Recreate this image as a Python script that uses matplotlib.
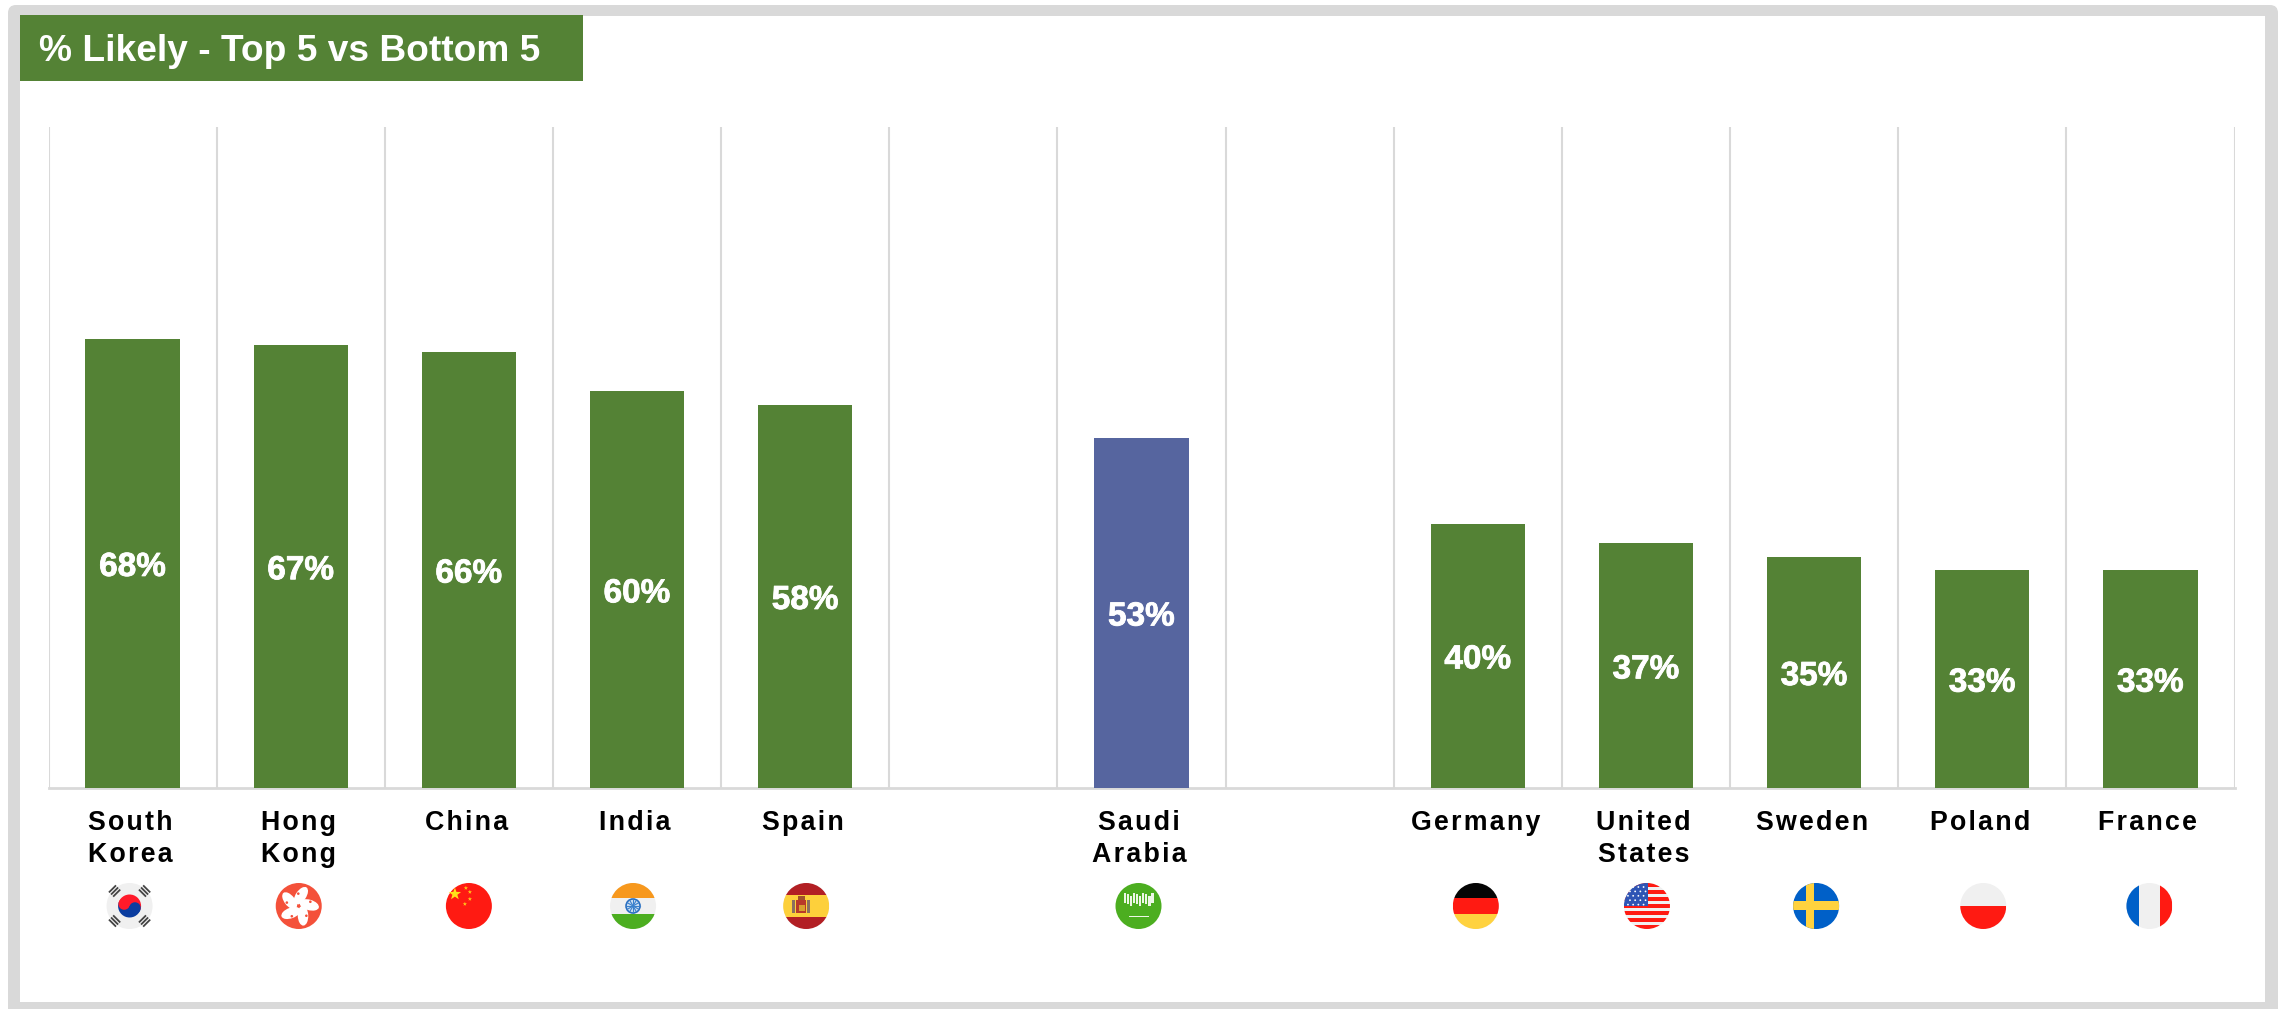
import numpy as np
import matplotlib
matplotlib.use("Agg")
import matplotlib.pyplot as plt
from matplotlib.patches import Circle, Rectangle, FancyBboxPatch, Polygon, Wedge, Ellipse
from matplotlib.transforms import Affine2D, ScaledTranslation
import matplotlib.patheffects as pe

W, H = 2285, 1009

countries = ["South\nKorea", "Hong\nKong", "China", "India", "Spain", "",
             "Saudi\nArabia", "", "Germany", "United\nStates", "Sweden", "Poland", "France"]
likely = [68, 67, 66, 60, 58, None, 53, None, 40, 37, 35, 33, 33]
flag_codes = ["kr", "hk", "cn", "in", "es", None, "sa", None, "de", "us", "se", "pl", "fr"]
flag_nudge = [-3, -2, 0, -4, 1, 0, -3, 0, -2, 1, 2, 1, -1]
title_text = "% Likely - Top 5 vs Bottom 5"

GREEN = "#548235"
BLUE = "#56659F"
GRID = "#D9D9D9"
FRAME = "#D9D9D9"
HAIR = "\u200a"

plt.rcParams["font.family"] = ["Liberation Sans", "DejaVu Sans"]

fig = plt.figure(figsize=(W / 100, H / 100), dpi=100, facecolor="white")


def pixel_axes(zorder):
    a = fig.add_axes([0, 0, 1, 1], zorder=zorder)
    a.set_xlim(0, W)
    a.set_ylim(H, 0)
    a.axis("off")
    a.patch.set_alpha(0)
    return a


# Frame and title band sit behind the chart
back = pixel_axes(0)
back.add_patch(FancyBboxPatch((8, 5), 2270, 1020, boxstyle="round,pad=0,rounding_size=8",
                              fc=FRAME, ec="none"))
back.add_patch(Rectangle((20, 16), 2245, 986, fc="white", ec="none"))
back.add_patch(Rectangle((20, 15), 563, 66, fc=GREEN, ec="none"))
back.text(39, 51.5, title_text, color="white", fontsize=26.7, fontweight="bold",
          va="center", ha="left")

# Main chart
ax = fig.add_axes([48.5 / W, 1 - 788 / H, (2234.5 - 48.5) / W, (788 - 127) / H], zorder=1)
ax.patch.set_alpha(0)
x = np.arange(len(countries))
for xi, v in zip(x, likely):
    if v is None:
        continue
    color = BLUE if "Saudi" in countries[xi] else GREEN
    ax.bar(xi, v, width=0.56, color=color, zorder=3)
    ax.annotate(f"{v}%", (xi, v / 2), xytext=(0, -3), textcoords="offset points",
                color="white", fontsize=24, fontweight="bold",
                ha="center", va="center", zorder=4,
                path_effects=[pe.withStroke(linewidth=0.6, foreground="white")])

ax.set_xlim(-0.5, len(countries) - 0.5)
ax.set_ylim(0, 100)
ax.set_yticks([])
ax.set_xticks(x)
spaced = ["\n".join(HAIR.join(line) for line in c.split("\n")) for c in countries]
ax.set_xticklabels(spaced, fontsize=19.3, fontweight="bold", color="black", linespacing=1.32)
ax.tick_params(axis="x", length=0, pad=15.5)
shift_left = ScaledTranslation(-2.5 / 100, 0, fig.dpi_scale_trans)
for lab in ax.get_xticklabels():
    lab.set_transform(lab.get_transform() + shift_left)
ax.set_xticks(np.arange(-0.5, len(countries)), minor=True)
ax.tick_params(axis="x", which="minor", length=0)
ax.grid(True, axis="x", which="minor", color=GRID, linewidth=1.5, zorder=1)
ax.grid(False, axis="x", which="major")
for name in ["top", "left", "right"]:
    ax.spines[name].set_visible(False)
ax.spines["bottom"].set_color(GRID)
ax.spines["bottom"].set_linewidth(2)

# Round flags under the category labels
flags = pixel_axes(2)
FR = 23
FY = 906
RED = "#FF1A12"
PALE = "#F0F0F0"
YEL = "#FFD23F"
FGREEN = "#4CAE20"
FBLUE = "#0060C8"


def bands(a, cx, clip, rows):
    top = FY - FR
    for y0, y1, c in rows:
        r = Rectangle((cx - FR, top + y0 * 2 * FR), 2 * FR, (y1 - y0) * 2 * FR, fc=c, ec="none")
        a.add_patch(r)
        r.set_clip_path(clip)


def columns(a, cx, clip, cols):
    for x0, x1, c in cols:
        r = Rectangle((cx - FR + x0 * 2 * FR, FY - FR), (x1 - x0) * 2 * FR, 2 * FR, fc=c, ec="none")
        a.add_patch(r)
        r.set_clip_path(clip)


def star(cx, cy, r, rot=0):
    ang = np.deg2rad(np.arange(10) * 36 - 90 + rot)
    rad = np.where(np.arange(10) % 2 == 0, r, r * 0.4)
    return np.c_[cx + rad * np.cos(ang), cy + rad * np.sin(ang)]


def draw_flag(a, code, cx):
    disc = Circle((cx, FY), FR, fc=PALE, ec="none")
    a.add_patch(disc)
    clip = disc
    if code == "kr":
        a.add_patch(Wedge((cx, FY), 11.5, 200, 20, fc="#FF1A2A", ec="none"))
        a.add_patch(Wedge((cx, FY), 11.5, 20, 200, fc="#0A3DA0", ec="none"))
        dx, dy = 5.4, 2.0
        a.add_patch(Circle((cx - dx, FY - dy), 5.75, fc="#FF1A2A", ec="none"))
        a.add_patch(Circle((cx + dx, FY + dy), 5.75, fc="#0A3DA0", ec="none"))
        for sx, sy in [(-1, -1), (1, -1), (-1, 1), (1, 1)]:
            for k in (-3, 0, 3):
                px = cx + sx * 15 + k * 0.7 * sx
                py = FY + sy * 15 + k * 0.7 * sy
                ang = -45 * sx * sy
                a.add_patch(Rectangle((px - 5, py - 0.9), 10, 1.8, fc="#444444", ec="none",
                                      transform=Affine2D().rotate_deg_around(px, py, ang) + a.transData))
    elif code == "hk":
        disc.set_facecolor("#F4513A")
        for k in range(5):
            t = np.deg2rad(k * 72 - 90 + 12)
            c, s = np.cos(t), np.sin(t)
            a.add_patch(Ellipse((cx + 10.5 * c, FY + 10.5 * s), 20, 10.5,
                                angle=np.rad2deg(t) + 22, fc="white", ec="none"))
            a.add_patch(Circle((cx + 12 * c + 3 * s, FY + 12 * s - 3 * c), 1.3, fc="#F4513A", ec="none"))
    elif code == "cn":
        disc.set_facecolor(RED)
        a.add_patch(Polygon(star(cx - 14, FY - 12, 6.5), fc="#FFE01A", ec="none"))
        for ox, oy in [(-3, -18), (1, -14), (1, -7), (-4, -2)]:
            a.add_patch(Polygon(star(cx + ox, FY + oy, 2.2), fc="#FFC81A", ec="none"))
    elif code == "in":
        bands(a, cx, clip, [(0, 1 / 3, "#F7981D"), (2 / 3, 1, FGREEN)])
        a.add_patch(Circle((cx, FY), 7, fc="#CFE0F2", ec="#2A6FC0", lw=1.2))
        for k in range(6):
            t = k * np.pi / 6
            a.plot([cx - 6.5 * np.cos(t), cx + 6.5 * np.cos(t)], [FY - 6.5 * np.sin(t), FY + 6.5 * np.sin(t)],
                   color="#3A80CC", lw=0.8)
    elif code == "es":
        bands(a, cx, clip, [(0, 0.26, "#B21F24"), (0.26, 0.74, "#FDD03B"), (0.74, 1, "#B21F24")])
        a.add_patch(Rectangle((cx - 14, FY - 6), 3, 13, fc="#8A7060", ec="none"))
        a.add_patch(Rectangle((cx + 1, FY - 6), 3, 13, fc="#8A7060", ec="none"))
        a.add_patch(Rectangle((cx - 10, FY - 6), 10, 13, fc="#B8392A", ec="none"))
        a.add_patch(Rectangle((cx - 7, FY - 1), 6, 6, fc="#D8A030", ec="none"))
        a.add_patch(Rectangle((cx - 8, FY - 10), 7, 4, fc="#A0522D", ec="none"))
    elif code == "sa":
        disc.set_facecolor(FGREEN)
        for k in range(10):
            a.add_patch(Rectangle((cx - 15 + k * 3.1, FY - 13 + (k % 3) * 1.3), 2.2, 10, fc="#EDF7E6", ec="none"))
        a.add_patch(Rectangle((cx - 10, FY + 9.5), 20, 1.5, fc="#EDF7E6", ec="none"))
    elif code == "de":
        bands(a, cx, clip, [(0, 1 / 3, "#050505"), (1 / 3, 2 / 3, RED), (2 / 3, 1, YEL)])
    elif code == "us":
        rows = [(k / 13, (k + 1) / 13, RED if k % 2 == 0 else PALE) for k in range(13)]
        bands(a, cx, clip, rows)
        r = Rectangle((cx - FR, FY - FR), FR * 1.05, FR * 1.0, fc="#2F55B5", ec="none")
        a.add_patch(r)
        r.set_clip_path(clip)
        for i in range(5):
            for j in range(4):
                a.add_patch(Circle((cx - FR + 4 + j * 5.2 + (i % 2) * 2, FY - FR + 4 + i * 4.4),
                                   0.9, fc="white", ec="none"))
    elif code == "se":
        disc.set_facecolor(FBLUE)
        columns(a, cx, clip, [(0.27, 0.45, YEL)])
        bands(a, cx, clip, [(0.4, 0.58, YEL)])
    elif code == "pl":
        bands(a, cx, clip, [(0.5, 1, RED)])
    elif code == "fr":
        columns(a, cx, clip, [(0, 0.27, FBLUE), (0.73, 1, RED)])


for xi, code, nudge in zip(x, flag_codes, flag_nudge):
    if code is None:
        continue
    px = ax.transData.transform((xi, 0))[0] + nudge
    draw_flag(flags, code, px)

fig.savefig("out.png", dpi=100)
